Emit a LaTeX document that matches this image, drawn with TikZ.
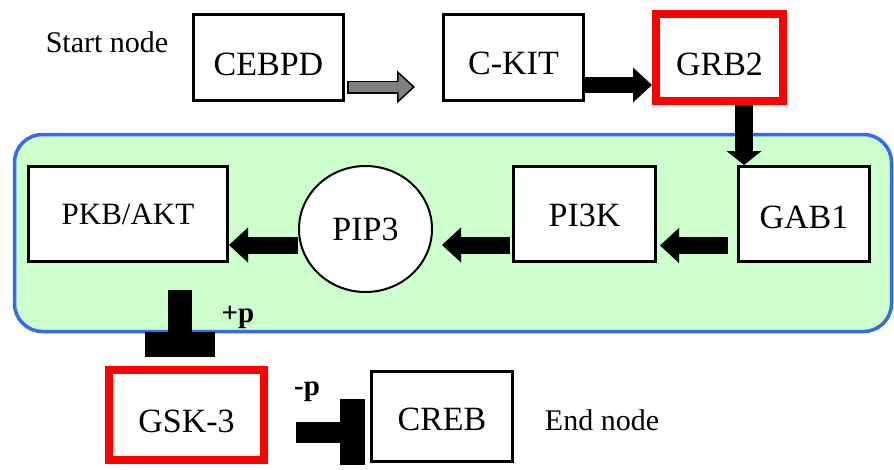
\documentclass[tikz,border=0pt]{standalone}
\usepackage{fontspec}
\setmainfont{Liberation Serif}
\usetikzlibrary{arrows.meta,shapes.geometric}

\definecolor{panelgreen}{RGB}{204,255,204}
\definecolor{panelblue}{RGB}{55,105,235}
\definecolor{markred}{RGB}{255,0,0}
\definecolor{arrowgray}{RGB}{128,128,128}

\tikzset{
	gene/.style={draw, fill=white, line width=3pt, inner sep=0pt, font=\fontsize{34}{40}\selectfont},
	hit/.style={gene, draw=markred, line width=8pt},
	tag/.style={font=\fontsize{30}{34}\selectfont},
	sign/.style={font=\bfseries\fontsize{29}{33}\selectfont},
	blockarrow/.style={line width=17pt, -{Triangle[width=35pt,length=19pt,line width=0pt]}},
	grayedge/.style={line width=13pt, shorten <=2pt, shorten >=27pt, -{Triangle[width=33pt,length=18pt,line width=0pt]}},
	grayfill/.style={arrowgray, line width=10pt, shorten <=3.5pt, shorten >=29.5pt, -{Triangle[width=26pt,length=14pt,line width=0pt]}},
	inhibit/.style={line width=24pt, -{Rectangle[length=25pt,width=70pt,line width=0pt]}}
}

\begin{document}
\begin{tikzpicture}[x=1pt, y=-1pt]
	\useasboundingbox (0,0) rectangle (894,469);

	\draw[panelblue, fill=panelgreen, line width=3.5pt, rounded corners=28pt]
		(14.5,134.5) rectangle (891.5,331.5);

	\node[tag] (startlabel) at (107,42) {Start node};
	\node[gene, minimum width=150pt, minimum height=86pt, text height=36pt] (cebpd) at (268.5,57.5) {CEBPD};
	\node[gene, minimum width=140pt, minimum height=86pt, text height=35pt] (ckit) at (513.5,57.5) {C-KIT};
	\node[hit, minimum width=127pt, minimum height=87pt, text height=36pt] (grb2) at (719.5,57.5) {GRB2};

	\node[gene, minimum width=199pt, minimum height=95pt, font=\fontsize{31}{36}\selectfont] (pkb) at (128,214) {PKB/AKT};
	\node[gene, ellipse, line width=2pt, minimum width=133pt, minimum height=126pt] (pip3) at (365.5,229) {PIP3};
	\node[gene, minimum width=142pt, minimum height=95pt, text height=25pt] (pi3k) at (584.5,214) {PI3K};
	\node[gene, minimum width=131pt, minimum height=95pt, text height=30pt] (gab1) at (804,214) {GAB1};

	\node[hit, minimum width=155pt, minimum height=90pt, text height=36pt] (gsk) at (186.5,415) {GSK-3};
	\node[gene, minimum width=141pt, minimum height=90pt, text height=29pt] (creb) at (442,416.5) {CREB};
	\node[tag] (endlabel) at (602,420) {End node};

	\node[sign] (plus) at (238,317) {+p};
	\node[sign] (minus) at (307,392) {-p};

	\draw[grayedge] ([yshift=-29.5pt]cebpd.east) -- ([yshift=-29.5pt]ckit.west);
	\draw[grayfill] ([yshift=-29.5pt]cebpd.east) -- ([yshift=-29.5pt]ckit.west);
	\draw[blockarrow, line width=16pt] ([yshift=-27.5pt]ckit.east) -- ([yshift=-27.5pt]grb2.west);
	\draw[blockarrow, line width=18pt, -{Triangle[width=35pt,length=14pt,line width=0pt]}]
		([xshift=24.5pt]grb2.south) -- ([xshift=24.5pt]grb2.south |- gab1.north);
	\draw[blockarrow, shorten <=9pt, shorten >=3pt] ([yshift=-31.5pt]gab1.west) -- ([yshift=-31.5pt]pi3k.east);
	\draw[blockarrow, shorten <=2pt, shorten >=9pt] ([yshift=-31pt]pi3k.west) -- ([yshift=-31pt]pi3k.west -| pip3.east);
	\draw[blockarrow] ([yshift=-31pt]pkb.east -| pip3.west) -- ([yshift=-31pt]pkb.east);

	\draw[inhibit, shorten <=27pt, shorten >=9pt] ([xshift=52pt]pkb.south) -- ([xshift=52pt]pkb.south |- gsk.north);
	\draw[inhibit, line width=21pt, -{Rectangle[length=25pt,width=66pt,line width=0pt]}, shorten <=28pt, shorten >=5pt]
		([yshift=-17pt]gsk.east) -- ([yshift=-17pt]gsk.east -| creb.west);
\end{tikzpicture}
\end{document}
